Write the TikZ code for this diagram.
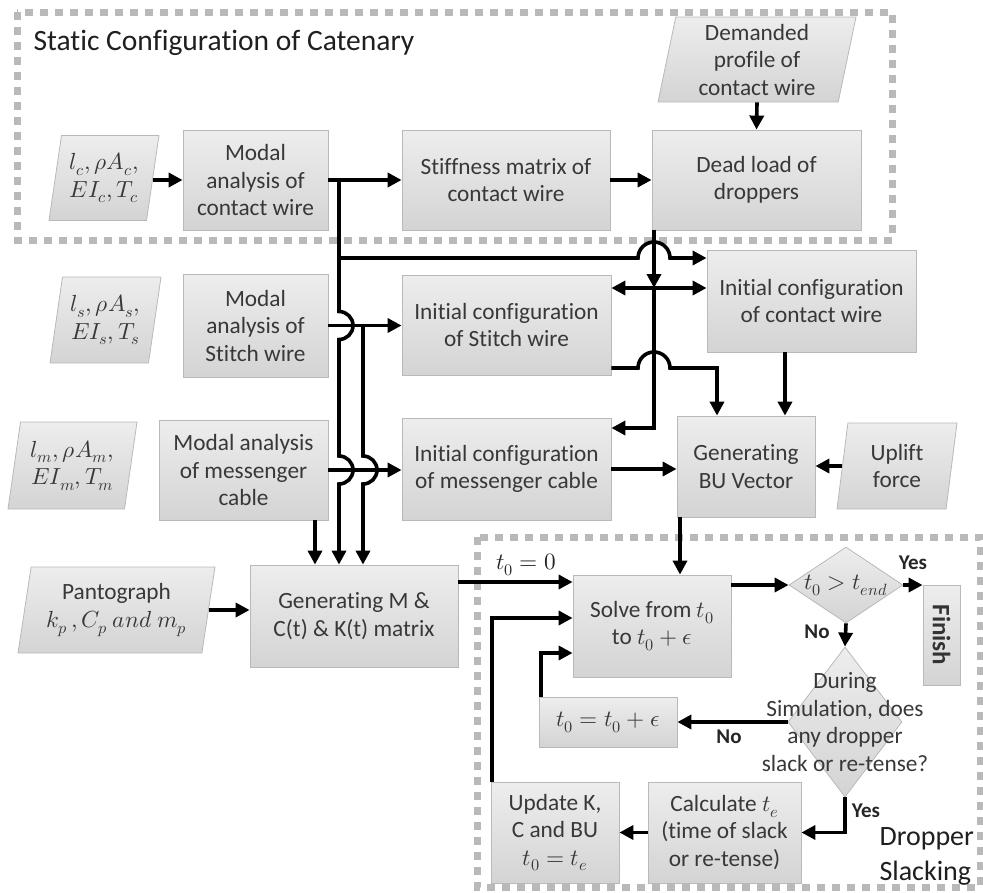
\documentclass[tikz,border=0pt]{standalone}
\usepackage{fontspec}
\usepackage{unicode-math}
\setmainfont{Carlito}[Ligatures=NoCommon]
\usetikzlibrary{arrows.meta,shapes.geometric,calc}
\newcommand{\bxfont}{\fontsize{23.3}{27.5}\selectfont}
\tikzset{
  box/.style={draw=gray!55, line width=0.8pt, top color=gray!14, bottom color=gray!34, inner sep=0pt, align=center, text=black!78, font=\bxfont},
  wh/.style n args={2}{minimum width=#1, minimum height=#2},
  para/.style={box, trapezium, trapezium left angle=76, trapezium right angle=104, trapezium stretches body},
  dia/.style={draw=gray!55, line width=0.8pt, top color=gray!14, bottom color=gray!34, diamond, inner sep=0pt},
  arr/.style={line width=3.6pt, -{Triangle[length=14pt,width=14pt]}},
  darr/.style={line width=3.6pt, {Triangle[length=14pt,width=14pt]}-{Triangle[length=14pt,width=14pt]}},
  lbl/.style={font=\fontsize{21}{24}\selectfont\bfseries, text=black!85},
  grp/.style={draw=gray!55, line width=7pt, dash pattern=on 8pt off 7pt}
}
\begin{document}
\begin{tikzpicture}[x=1pt,y=-1pt]
\useasboundingbox (0,0) rectangle (983,892);
\clip (0,0) rectangle (983,892);

% group frames
\draw[grp] (17,12) rectangle (892,240);
\draw[grp] (477,537) rectangle (980,887);
\node[anchor=west, font=\fontsize{29.5}{33}\selectfont, text=black!88] (title) at (30,43) {Static Configuration of Catenary};
\node[anchor=north west, align=left, font=\fontsize{28}{35}\selectfont, text=black!88] (drop) at (876,824) {Dropper\\Slacking};

% row 1
\node[para, wh={110pt}{85pt}] (pc) at (104,178) {$l_c,\rho A_c,$\\$EI_c,T_c$};
\node[box, wh={145pt}{100pt}] (mac) at (255.5,180) {Modal\\analysis of\\contact wire};
\node[box, wh={208pt}{100pt}] (stf) at (506,180) {Stiffness matrix of\\contact wire};
\node[box, wh={209pt}{100pt}] (dead) at (756.5,180) {Dead load of\\droppers};
\node[para, wh={198pt}{85pt}] (dem) at (757,59.5) {Demanded\\profile of\\contact wire};

% row 2
\node[para, wh={111pt}{86pt}] (ps) at (105.5,320) {$l_s,\rho A_s,$\\$EI_s,T_s$};
\node[box, wh={145pt}{103pt}] (mas) at (255.5,325.5) {Modal\\analysis of\\Stitch wire};
\node[box, wh={209pt}{100pt}] (ics) at (506.5,325) {Initial configuration\\of Stitch wire};
\node[box, wh={209pt}{102pt}] (icc) at (811.5,301) {Initial configuration\\of contact wire};

% row 3
\node[para, wh={129pt}{87pt}] (pm) at (72.5,465.5) {$l_m,\rho A_m,$\\$EI_m,T_m$};
\node[box, wh={169pt}{100pt}] (mam) at (243.5,470) {Modal analysis\\of messenger\\cable};
\node[box, wh={209pt}{102pt}] (icm) at (506.5,469) {Initial configuration\\of messenger cable};
\node[box, wh={138pt}{101pt}] (gbu) at (746,466.5) {Generating\\BU Vector};
\node[para, wh={120pt}{86pt}] (upl) at (897,466) {Uplift\\force};

% row 4
\node[para, wh={197pt}{86pt}] (pan) at (116.5,610) {Pantograph\\$k_p\,,C_p\ and\ m_p$};
\node[box, wh={208pt}{102pt}] (genm) at (354,616) {Generating M \&\\C(t) \& K(t) matrix};
\node[box, wh={158pt}{102pt}] (solve) at (652,626) {Solve from $t_0$\\to $t_0+\epsilon$};
\node[dia, wh={114pt}{76pt}, label={[font=\bxfont, text=black!78]center:$t_0>t_{end}$}] (d1) at (846,585) {};
\node[box, wh={37pt}{100pt}, label={[rotate=-90, font=\fontsize{25}{28}\selectfont\bfseries, text=black!80]center:Finish}] (fin) at (941.5,635) {};
\node[dia, wh={114pt}{150pt}, label={[align=center, font=\bxfont, text=black!78]center:During\\Simulation, does\\any dropper\\slack or re-tense?}] (d2) at (845,722) {};
\node[box, wh={138pt}{50pt}] (t0e) at (608,722) {$t_0=t_0+\epsilon$};
\node[box, wh={128pt}{101pt}] (upd) at (555,832.5) {Update K,\\C and BU\\$t_0=t_e$};
\node[box, wh={153pt}{101pt}] (calc) at (724.5,832.5) {Calculate $t_e$\\(time of slack\\or re-tense)};

% labels
\node[font=\bxfont, text=black!85] (t00) at (526,565) {$t_0=0$};
\node[lbl] (yes1) at (913,563) {Yes};
\node[lbl] (no1) at (817,632) {No};
\node[lbl] (no2) at (729,737) {No};
\node[lbl] (yes2) at (866,811) {Yes};

% coordinates
\coordinate (jA) at (339,180);
\coordinate (jB) at (339,258);
\coordinate (jC) at (363,325.5);
\coordinate (xm) at (315,0);
\coordinate (jD) at (654,288);
\coordinate (jE) at (654,428);
\coordinate (jF) at (717,368);
\coordinate (xg) at (785,0);
\coordinate (jG) at (458,582);
\coordinate (xs) at (680,0);
\coordinate (jH) at (492,618);
\coordinate (jI) at (541,653);

% row 1 connectors
\draw[arr] (pc.east |- mac.west) -- (mac.west);
\draw[arr] (mac.east) -- (stf.west);
\draw[arr] (stf.east) -- (dead.west);
\draw[arr] (dem.south) -- (dead.north);

% vertical trunk from contact-wire modal analysis
\draw[arr] (jA) -- (339,311.5) arc[start angle=90,end angle=-90,radius=14pt]
  -- (339,456) arc[start angle=90,end angle=-90,radius=14pt] -- (jA |- genm.north);
\draw[arr] (jB) -- (638,258) arc[start angle=180,end angle=0,radius=16pt] -- (icc.west |- jB);

% stitch
\draw[arr] (mas.east) -- (ics.west |- mas.east);
\draw[arr] (jC) -- (363,456) arc[start angle=90,end angle=-90,radius=14pt] -- (jC |- genm.north);

% messenger
\draw[arr] (mam.east) -- (icm.west |- mam.east);
\draw[arr] (xm |- mam.south) -- (xm |- genm.north);

% dead load distribution
\draw[arr] (jD |- dead.south) -- (jD);
\draw[darr] (ics.east |- jD) -- (icc.west |- jD);
\draw[arr] (jD) -- (jE) -- (icm.east |- jE);

% to BU vector
\draw[arr] (ics.east |- jF) -- (638,368) arc[start angle=180,end angle=0,radius=16pt] -- (jF) -- (jF |- gbu.north);
\draw[arr] (xg |- icc.south) -- (xg |- gbu.north);
\draw[arr] (icm.east) -- (gbu.west |- icm.east);
\draw[arr] (upl.west) -- (gbu.east |- upl.west);

% bottom
\draw[arr] (pan.east) -- (genm.west |- pan.east);
\draw[arr] (genm.east |- jG) -- (solve.west |- jG);
\draw[arr] (xs |- gbu.south) -- (xs |- solve.north);
\draw[arr] (solve.east |- d1.west) -- (d1.west);
\draw[arr] (d1.east) -- (fin.west |- d1.east);
\draw[arr] (d1.south) -- (d2.north);
\draw[arr] (d2.west) -- (t0e.east |- d2.west);
\draw[arr] (d2.south) -- (d2.south |- calc.east) -- (calc.east);
\draw[arr] (calc.west) -- (upd.east);
\draw[arr] (jH |- upd.north) -- (jH) -- (solve.west |- jH);
\draw[arr] (jI |- t0e.north) -- (jI) -- (solve.west |- jI);
\end{tikzpicture}
\end{document}
